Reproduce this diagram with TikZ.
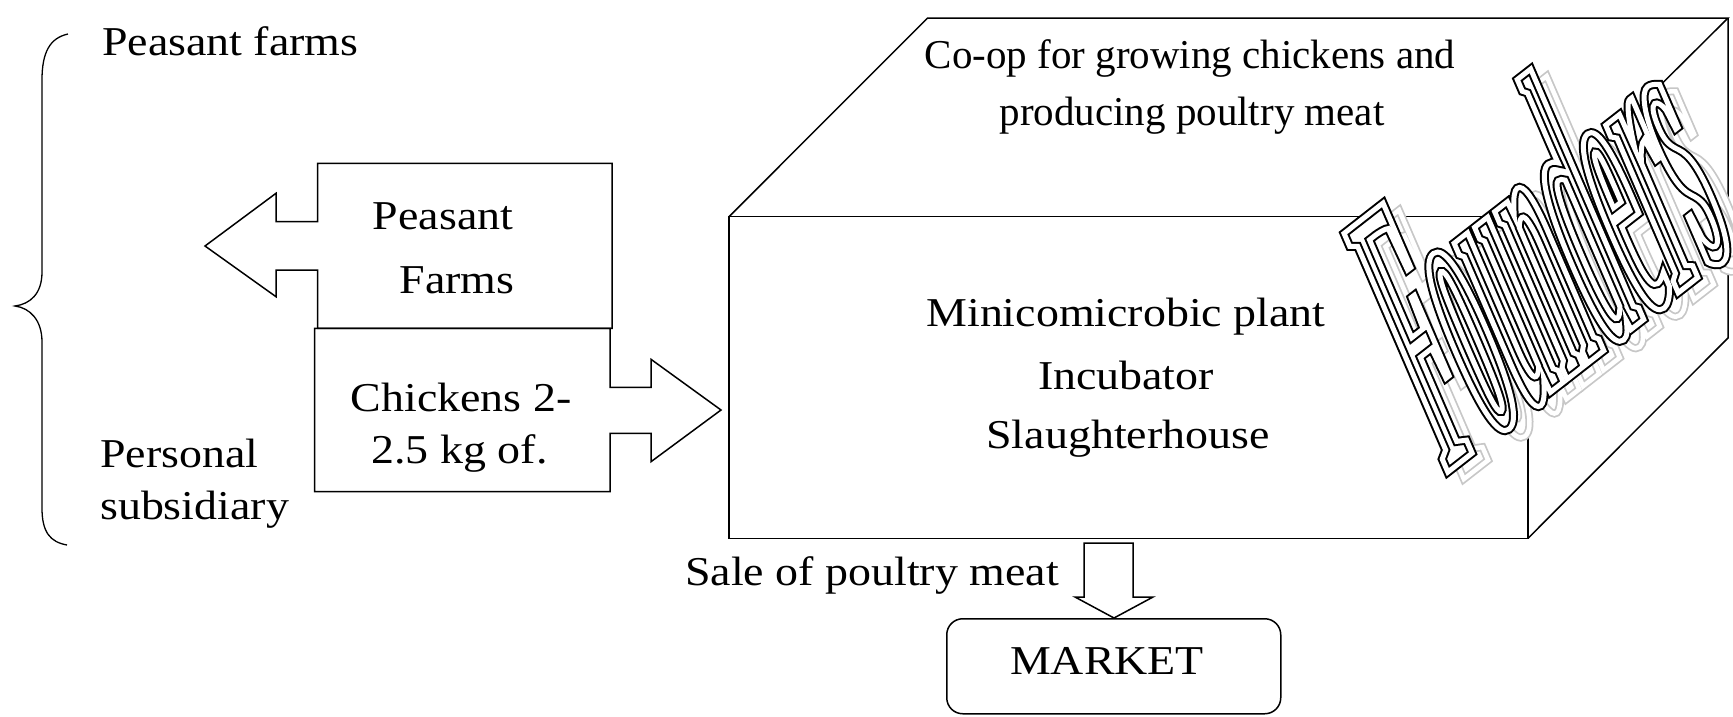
\documentclass[tikz,border=0pt]{standalone}
\usepackage{fontspec}
\setmainfont{Liberation Serif}[FakeStretch=1.12]
\newfontfamily\topfont{Liberation Serif}
\newfontfamily\wordfont{Liberation Serif Bold}[FakeStretch=0.235,FakeSlant=0.259]
\newcommand\rmode[1]{\special{pdf:literal direct #1}}
\begin{document}
\begin{tikzpicture}[x=1pt,y=-1pt,
  edge/.style={draw=black, line width=1.5pt, line join=miter},
  lbl/.style={inner sep=0pt, font=\fontsize{41}{49}\selectfont},
  toplbl/.style={inner sep=0pt, font=\topfont\fontsize{41}{49}\selectfont},
  wordart/.style={inner sep=0pt, anchor=base west, rotate=37.9, font=\wordfont\fontsize{385}{400}\selectfont}]
\useasboundingbox (0,0) rectangle (1733,716);
\fill[white] (0,0) rectangle (1733,716);

% brace
\draw[line width=1.3pt] (68,34) .. controls (50,38) and (42,52) .. (42,80) -- (42,272)
  .. controls (42,294) and (30,304) .. (15,306)
  .. controls (30,308) and (42,320) .. (42,342) -- (42,508)
  .. controls (42,532) and (50,542) .. (67,545);
\node[lbl, anchor=base west] (pf) at (102,55.4) {Peasant farms};
\node[lbl, anchor=base west] (pers) at (100,467.9) {Personal};
\node[lbl, anchor=base west] (subs) at (100,519.6) {subsidiary};

% cube
\coordinate (fa) at (729,216.7);
\coordinate (fb) at (1528,216.7);
\coordinate (fc) at (1528,538.3);
\coordinate (fd) at (729,538.3);
\coordinate (ba) at (927.6,18);
\coordinate (bb) at (1728,18);
\coordinate (bc) at (1728,338);
\draw[edge] (fa) -- (fb) -- (fc) -- (fd) -- cycle;
\draw[edge] (fa) -- (ba) -- (bb) -- (fb);
\draw[edge] (bb) -- (bc) -- (fc);

\node[toplbl, anchor=base] (coop1) at (1190,68) {Co-op for growing chickens and};
\node[toplbl, anchor=base] (coop2) at (1192,125) {producing poultry meat};
\node[lbl, anchor=base] (mini) at (1126,326.7) {Minicomicrobic plant};
\node[lbl, anchor=base] (incu) at (1126,389.3) {Incubator};
\node[lbl, anchor=base] (slau) at (1128,448.3) {Slaughterhouse};

% peasant farms arrow box
\draw[edge] (317.5,163.3) -- (612,163.3) -- (612,328.3) -- (317.5,328.3) -- (317.5,270)
  -- (276,270) -- (276,296.7) -- (205,246) -- (276,193.3) -- (276,221.7) -- (317.5,221.7) -- cycle;
\node[lbl, anchor=base] (pfa) at (443,229) {Peasant};
\node[lbl, anchor=base] (pfb) at (457,293.3) {Farms};

% chickens arrow box
\draw[edge] (314.6,328.3) -- (610,328.3) -- (610,387.3) -- (651,387.3) -- (651,359.3)
  -- (721,410) -- (651,461.7) -- (651,433.3) -- (610,433.3) -- (610,491.7) -- (314.6,491.7) -- cycle;
\node[lbl, anchor=base] (chk1) at (461,411.7) {Chickens 2-};
\node[lbl, anchor=base] (chk2) at (459.5,463) {2.5 kg of.};

% sale arrow and market
\node[draw=black, line width=1.5pt, rounded corners=16pt, minimum width=334pt, minimum height=95pt,
  anchor=north west, inner sep=0pt] (market) at (946,618) {};
\node[lbl, anchor=base] (marketlbl) at (1107,674) {MARKET};
\draw[edge] (1084,543) -- (1133,543) -- (1133,597) -- (1153,597) -- (market.north -| 1114,0)
  -- (1075,597) -- (1084,597) -- cycle;
\node[lbl, anchor=base west] (sale) at (685,585) {Sale of poultry meat};

% Founders word art
\node[wordart] (fshadow) at (1462,480.5)
  {\rlap{\rmode{2 Tr 8 w 0.78 0.78 0.78 RG 1 1 1 rg}Founders}\rmode{1 Tr 4.5 w 1 1 1 RG}Founders\rmode{0 Tr}};
\node[wordart] (founders) at (1446,473.5)
  {\rlap{\rmode{2 Tr 9 w 0 0 0 RG 1 1 1 rg}Founders}\rmode{1 Tr 5 w 1 1 1 RG}Founders\rmode{0 Tr}};
\end{tikzpicture}
\end{document}
